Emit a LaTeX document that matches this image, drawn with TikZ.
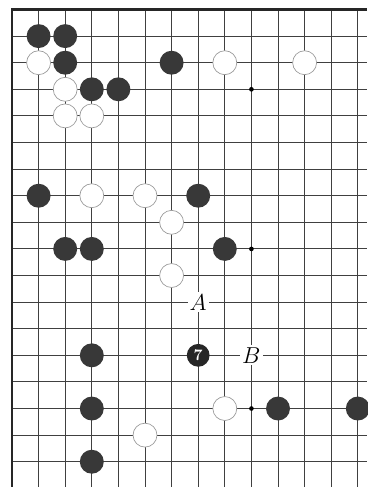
\documentclass[tikz,border=0pt]{standalone}
\begin{document}
\begin{tikzpicture}[
  x=0.7cm,
  y=-0.7cm,
  grid line/.style={line width=0.7pt, black!75},
  board edge/.style={line width=1.8pt, black!85},
  black stone/.style={circle, fill=black!78, minimum size=0.63cm, inner sep=0pt},
  white stone/.style={circle, draw=black!40, line width=0.5pt, fill=white, minimum size=0.63cm, inner sep=0pt},
  move stone/.style={circle, fill=black!85, text=white, minimum size=0.6cm, inner sep=0pt, font=\fontsize{12}{12}\selectfont\bfseries},
  star point/.style={circle, fill=black, minimum size=3.5pt, inner sep=0pt},
  point label/.style={fill=white, inner sep=1.5pt, font=\fontsize{18}{18}\selectfont},
]
  \useasboundingbox (-0.451,-0.357) rectangle (13.346,17.95);

  % board
  \foreach \i in {1,...,13}
    \draw[grid line] (\i,0) -- (\i,17.95);
  \foreach \j in {1,...,17}
    \draw[grid line] (0,\j) -- (13.346,\j);
  \draw[board edge] (0,17.95) -- (0,0) -- (13.346,0);

  \foreach \c/\r [count=\n] in {9/3, 9/9, 9/15}
    \node[star point] (star\n) at (\c,\r) {};

  % stones
  \foreach \c/\r [count=\n] in {1/1, 2/1, 2/2, 6/2, 3/3, 4/3, 1/7, 7/7, 2/9, 3/9, 8/9, 3/13, 3/15, 10/15, 13/15, 3/17}
    \node[black stone] (black\n) at (\c,\r) {};
  \foreach \c/\r [count=\n] in {1/2, 8/2, 11/2, 2/3, 2/4, 3/4, 3/7, 5/7, 6/8, 6/10, 8/15, 5/16}
    \node[white stone] (white\n) at (\c,\r) {};
  \node[move stone] (move7) at (7,13) {7};

  \node[point label] (pointA) at (7,11) {$A$};
  \node[point label] (pointB) at (9,13) {$B$};

\end{tikzpicture}
\end{document}
